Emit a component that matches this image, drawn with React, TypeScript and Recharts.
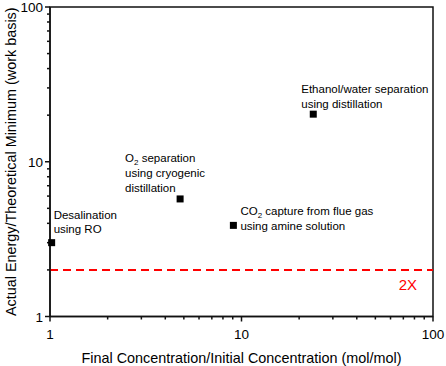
import React from "react";
import { ReferenceArea, ReferenceLine, Scatter, ScatterChart, XAxis, YAxis } from "recharts";

const processNames = ["Desalination", "O2 separation", "CO2 capture", "Ethanol/water separation"];
const concentrationRatio = [1.02, 4.78, 9.07, 23.7];
const energyRatio = [3.0, 5.75, 3.88, 20.3];
const annotationLines = [
  ["Desalination", "using RO"],
  ["O_2 separation", "using cryogenic", "distillation"],
  ["CO_2 capture from flue gas", "using amine solution"],
  ["Ethanol/water separation", "using distillation"],
];
const axisDomain = [1, 100];
const majorTicks = [1, 10, 100];
const tickSteps = [1, 2, 3, 4, 5, 6, 7, 8, 9];
const limitRatio = 2;
const limitLabel = "2X";

// pixel offsets of each annotation from its marker
const labelOffsets = [
  { dx: 2, dy: -24 },
  { dx: -55, dy: -36.5 },
  { dx: 7, dy: -10.5 },
  { dx: -12, dy: -21 },
];

const FONT = "'Liberation Sans', Arial, sans-serif";
const LINE_H = 14.7;
const AXIS = "#111";
const DECADES = Math.log10(axisDomain[1] / axisDomain[0]);

const data = processNames.map((name, i) => ({
  name,
  x: concentrationRatio[i],
  y: energyRatio[i],
  lines: annotationLines[i],
  idx: i,
}));

// fractional positions (0..1 along the axis) of every decade and sub-decade tick
const tickFractions: { f: number; major: boolean }[] = [];
for (let d = 0; d <= DECADES; d++) {
  tickSteps.forEach((k) => {
    const f = (d + Math.log10(k)) / DECADES;
    if (f <= 1.0001) tickFractions.push({ f, major: k === 1 });
  });
}

function renderLine(text: string) {
  const parts = text.split(/_(\d)/);
  if (parts.length === 1) return text;
  return [
    <tspan key="a">{parts[0]}</tspan>,
    <tspan key="b" dy={3} fontSize={8}>{parts[1]}</tspan>,
    <tspan key="c" dy={-3}>{parts[2]}</tspan>,
  ];
}

const Marker = (props: any) => {
  const { cx, cy, payload } = props;
  const off = labelOffsets[payload.idx];
  return (
    <g>
      <rect x={cx - 3.5} y={cy - 3.5} width={7} height={7} fill="#000" />
      {payload.lines.map((ln: string, k: number) => (
        <text key={k} x={cx + off.dx} y={cy + off.dy + k * LINE_H} fontSize={11.5} fontFamily={FONT} fill="#000">
          {renderLine(ln)}
        </text>
      ))}
    </g>
  );
};

const XTick = (props: any) => {
  const { x, y, payload } = props;
  return (
    <text x={x} y={y + 22.5} textAnchor="middle" fontSize={13.5} fontFamily={FONT} fill="#000">
      {payload.value}
    </text>
  );
};

const YTick = (props: any) => {
  const { x, y, payload } = props;
  return (
    <text x={x - 7} y={y + 5} textAnchor="end" fontSize={13.5} fontFamily={FONT} fill="#000">
      {payload.value}
    </text>
  );
};

const XTitle = (p: any) => {
  const vb = p.viewBox;
  return (
    <g>
      {tickFractions.map((t, i) => {
        const px = vb.x + t.f * vb.width;
        return <line key={i} x1={px} x2={px} y1={vb.y} y2={vb.y + (t.major ? 5 : 3)} stroke={AXIS} strokeWidth={1.5} />;
      })}
      <text x={vb.x + vb.width / 2} y={vb.y + 46.5} textAnchor="middle" fontSize={14.4} fontFamily={FONT} fill="#000">
        Final Concentration/Initial Concentration (mol/mol)
      </text>
    </g>
  );
};

const YTitle = (p: any) => {
  const vb = p.viewBox;
  const axisX = vb.x + vb.width;
  const cx = 11;
  const cy = vb.y + vb.height / 2;
  return (
    <g>
      {tickFractions.map((t, i) => {
        const py = vb.y + vb.height - t.f * vb.height;
        return <line key={i} x1={axisX} x2={axisX - (t.major ? 5 : 3)} y1={py} y2={py} stroke={AXIS} strokeWidth={1.5} />;
      })}
      <text
        x={cx}
        y={cy}
        transform={`rotate(-90 ${cx} ${cy})`}
        textAnchor="middle"
        dominantBaseline="central"
        fontSize={14.4}
        fontFamily={FONT}
        fill="#000"
      >
        Actual Energy/Theoretical Minimum (work basis)
      </text>
    </g>
  );
};

export default function App() {
  return (
    <div style={{ position: "absolute", left: 0, top: 0, width: 446, height: 366, background: "#fff" }}>
      <ScatterChart width={446} height={366} margin={{ top: 7, right: 13, bottom: 0, left: 0 }}>
        <XAxis
          dataKey="x"
          type="number"
          scale="log"
          domain={axisDomain}
          ticks={majorTicks}
          interval={0}
          height={49.5}
          tickSize={0}
          tickMargin={0}
          tickLine={false}
          tick={<XTick />}
          axisLine={{ stroke: AXIS, strokeWidth: 1.5 }}
          label={{ content: (p: any) => <XTitle {...p} /> }}
        />
        <YAxis
          dataKey="y"
          type="number"
          scale="log"
          domain={axisDomain}
          ticks={majorTicks}
          interval={0}
          width={50}
          tickSize={0}
          tickMargin={0}
          tickLine={false}
          tick={<YTick />}
          axisLine={{ stroke: AXIS, strokeWidth: 1.5 }}
          label={{ content: (p: any) => <YTitle {...p} /> }}
        />
        <ReferenceArea x1={1} x2={100} y1={1} y2={100} fill="none" stroke={AXIS} strokeWidth={1.5} />
        <ReferenceLine
          y={limitRatio}
          stroke="#ff0000"
          strokeWidth={2}
          strokeDasharray="8 5"
          label={{
            content: (p: any) => (
              <text
                x={p.viewBox.x + p.viewBox.width - 16}
                y={p.viewBox.y + 20.5}
                textAnchor="end"
                fontSize={15}
                fontFamily={FONT}
                fill="#ff0000"
              >
                {limitLabel}
              </text>
            ),
          }}
        />
        <Scatter data={data} shape={<Marker />} isAnimationActive={false} />
      </ScatterChart>
    </div>
  );
}
